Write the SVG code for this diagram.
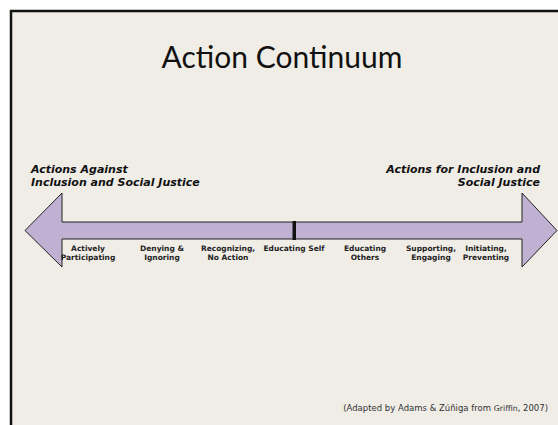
<svg xmlns="http://www.w3.org/2000/svg" width="558" height="425" viewBox="0 0 558 425">
<style>
.lbl{font-family:"DejaVu Sans",Verdana,sans-serif;font-weight:bold;font-size:7.5px;fill:#222;text-anchor:middle}
.side{font-family:"DejaVu Sans",Verdana,sans-serif;font-weight:bold;font-style:italic;font-size:11px;fill:#111}
</style>
<rect x="0" y="0" width="558" height="425" fill="#ffffff"/>
<rect x="11" y="11" width="560" height="430" fill="#f0ede7" stroke="#111" stroke-width="2.5"/>
<text x="282" y="68" font-family="Lato,'Open Sans',sans-serif" font-size="30" text-anchor="middle" fill="#111">Action Continuum</text>
<g id="arrow">
<polygon points="25,230.5 62,193 62,222 522,222 522,193 557,230.5 522,267 522,239 62,239 62,267" fill="#c0b1d3" stroke="#222" stroke-width="1"/>
<rect x="292.5" y="221" width="3.5" height="19" fill="#111"/>
</g>
<g id="left-label"><text class="side" x="31" y="173">Actions Against</text><text class="side" x="31" y="186">Inclusion and Social Justice</text></g>
<g id="right-label"><text class="side" x="540" y="173" text-anchor="end">Actions for Inclusion and</text><text class="side" x="540" y="186" text-anchor="end">Social Justice</text></g>
<g id="n1"><text class="lbl" x="88" y="251">Actively</text><text class="lbl" x="88" y="260">Participating</text></g>
<g id="n2"><text class="lbl" x="162" y="251">Denying &amp;</text><text class="lbl" x="162" y="260">Ignoring</text></g>
<g id="n3"><text class="lbl" x="228" y="251">Recognizing,</text><text class="lbl" x="228" y="260">No Action</text></g>
<g id="n4"><text class="lbl" x="294" y="251">Educating Self</text></g>
<g id="n5"><text class="lbl" x="365" y="251">Educating</text><text class="lbl" x="365" y="260">Others</text></g>
<g id="n6"><text class="lbl" x="431" y="251">Supporting,</text><text class="lbl" x="431" y="260">Engaging</text></g>
<g id="n7"><text class="lbl" x="486" y="251">Initiating,</text><text class="lbl" x="486" y="260">Preventing</text></g>
<text x="548" y="411" text-anchor="end" font-family="'DejaVu Sans',Verdana,sans-serif" font-size="8.5" fill="#333">(Adapted by Adams &amp; Zúñiga from <tspan font-size="7.8">Griffin</tspan>, 2007)</text>
</svg>
